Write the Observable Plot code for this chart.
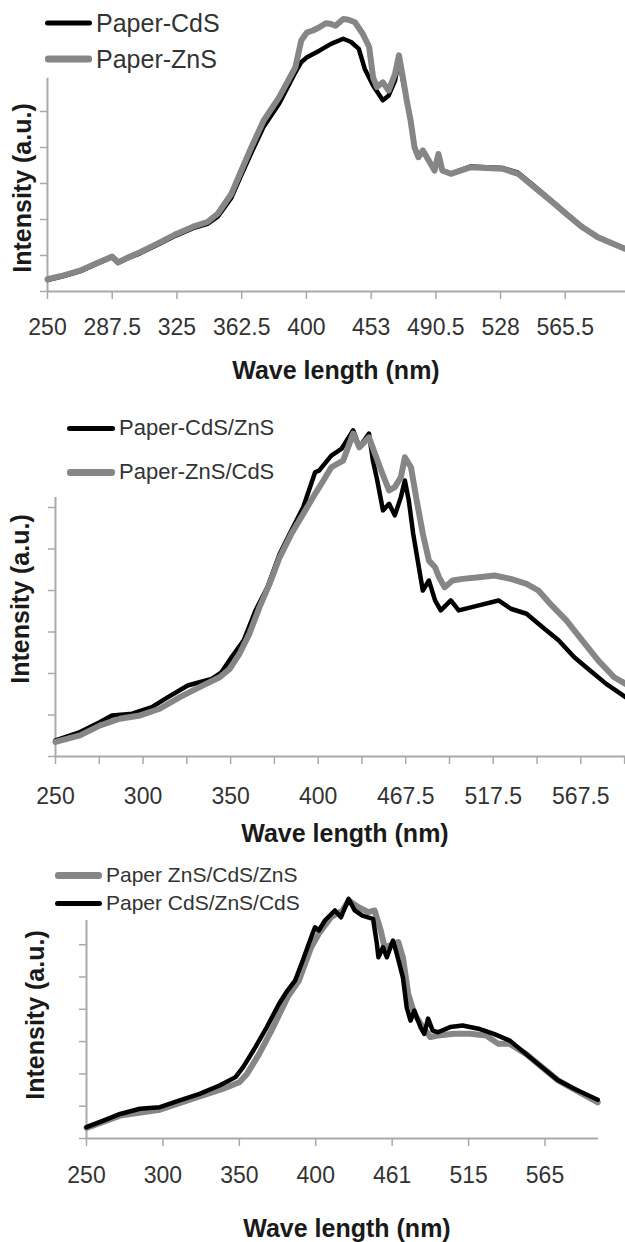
<!DOCTYPE html>
<html>
<head>
<meta charset="utf-8">
<script src="https://cdn.jsdelivr.net/npm/d3@7"></script>
<script src="https://cdn.jsdelivr.net/npm/@observablehq/plot@0.6"></script>
<style>
  html, body { margin: 0; padding: 0; background: #fff; }
  #root { position: relative; width: 625px; height: 1242px; overflow: hidden; font-family: "Liberation Sans", Arial, sans-serif; }
  #root svg { position: absolute; left: 0; }
  .ov { position: absolute; white-space: nowrap; }
  .title { font-weight: bold; color: #1a1a1a; font-size: 25px; transform: translate(-50%, -50%); }
  .ylab { font-weight: bold; color: #1a1a1a; font-size: 25px; transform: translate(-50%, -50%) rotate(-90deg); }
  .leg { display: flex; align-items: center; color: #333; transform: translateY(-50%); }
  .sw { display: inline-block; border-radius: 3px; }
</style>
</head>
<body>
<div id="root"></div>
<script>
// ---------- Panel 1: Paper-CdS / Paper-ZnS ----------
const ticks1 = ["250", "287.5", "325", "362.5", "400", "453", "490.5", "528", "565.5"];
const cdsPos = [0, 0.25, 0.5, 0.75, 1.0, 1.09, 1.25, 1.43, 1.7, 1.99, 2.25, 2.47, 2.63, 2.84, 2.98, 3.15, 3.34, 3.58, 3.83, 3.92, 4.01, 4.2, 4.38, 4.57, 4.69, 4.81, 4.9, 5.03, 5.18, 5.27, 5.37, 5.43, 5.49, 5.55, 5.61, 5.67, 5.73, 5.8, 5.89, 5.98, 6.04, 6.1, 6.23, 6.53, 7.03, 7.27, 7.52, 7.77, 8.01, 8.26, 8.5, 8.92];
const cdsVal = [0.32, 0.43, 0.56, 0.76, 0.95, 0.79, 0.93, 1.06, 1.3, 1.56, 1.76, 1.88, 2.08, 2.6, 3.18, 3.85, 4.58, 5.22, 6.09, 6.37, 6.51, 6.69, 6.88, 7.02, 6.93, 6.74, 6.19, 5.72, 5.31, 5.44, 5.86, 6.46, 5.86, 5.31, 4.75, 4.01, 3.73, 3.92, 3.64, 3.36, 3.82, 3.36, 3.27, 3.47, 3.43, 3.3, 2.93, 2.55, 2.18, 1.8, 1.52, 1.19];
const znsPos = [0, 0.25, 0.5, 0.75, 1.0, 1.09, 1.25, 1.43, 1.7, 1.99, 2.25, 2.47, 2.63, 2.84, 2.98, 3.15, 3.34, 3.58, 3.83, 3.92, 4.01, 4.1, 4.2, 4.3, 4.38, 4.45, 4.57, 4.65, 4.75, 4.87, 4.97, 5.03, 5.09, 5.18, 5.27, 5.37, 5.43, 5.49, 5.55, 5.61, 5.67, 5.73, 5.8, 5.89, 5.98, 6.04, 6.1, 6.23, 6.53, 7.03, 7.27, 7.52, 7.77, 8.01, 8.26, 8.5, 8.92];
const znsVal = [0.34, 0.45, 0.58, 0.78, 0.97, 0.81, 0.95, 1.09, 1.33, 1.6, 1.8, 1.93, 2.16, 2.71, 3.3, 4.01, 4.75, 5.4, 6.23, 6.97, 7.2, 7.25, 7.34, 7.45, 7.43, 7.38, 7.57, 7.55, 7.48, 7.16, 6.79, 5.95, 5.68, 5.81, 5.58, 6.05, 6.56, 5.95, 5.31, 4.75, 4.01, 3.73, 3.92, 3.64, 3.36, 3.82, 3.36, 3.27, 3.45, 3.41, 3.27, 2.9, 2.53, 2.16, 1.79, 1.51, 1.19];

// ---------- Panel 2: Paper-CdS/ZnS / Paper-ZnS/CdS ----------
const ticks2 = ["250", "", "300", "", "350", "", "400", "", "467.5", "", "517.5", "", "567.5", ""];
const cdsZnsPos = [0, 0.56, 1.02, 1.29, 1.75, 2.2, 2.57, 3.02, 3.29, 3.57, 3.79, 4.02, 4.3, 4.57, 4.84, 5.12, 5.39, 5.66, 5.93, 6.02, 6.3, 6.53, 6.8, 6.94, 7.16, 7.25, 7.35, 7.48, 7.62, 7.75, 7.89, 7.98, 8.07, 8.17, 8.3, 8.39, 8.53, 8.67, 8.8, 9.03, 9.21, 9.67, 10.12, 10.4, 10.76, 11.12, 11.49, 11.85, 12.21, 12.58, 13.02];
const cdsZnsVal = [0.39, 0.59, 0.83, 0.99, 1.03, 1.19, 1.43, 1.71, 1.79, 1.87, 2.03, 2.39, 2.8, 3.52, 4.08, 4.88, 5.45, 6.01, 6.85, 6.89, 7.25, 7.41, 7.86, 7.45, 7.78, 7.13, 6.65, 5.93, 6.09, 5.81, 6.25, 6.65, 6.17, 5.37, 4.56, 4.0, 4.24, 3.76, 3.52, 3.76, 3.52, 3.64, 3.76, 3.56, 3.44, 3.12, 2.8, 2.39, 2.07, 1.75, 1.43];
const znsCdsPos = [0, 0.56, 1.02, 1.47, 1.93, 2.38, 2.84, 3.29, 3.75, 3.98, 4.2, 4.43, 4.66, 4.89, 5.12, 5.39, 5.66, 5.93, 6.12, 6.3, 6.57, 6.8, 6.94, 7.16, 7.3, 7.44, 7.62, 7.75, 7.89, 7.98, 8.12, 8.25, 8.39, 8.53, 8.67, 8.76, 8.89, 9.07, 9.3, 9.67, 10.03, 10.4, 10.76, 11.03, 11.3, 11.67, 12.03, 12.4, 12.76, 13.02];
const znsCdsVal = [0.35, 0.51, 0.75, 0.91, 0.99, 1.15, 1.43, 1.67, 1.91, 2.11, 2.47, 2.96, 3.6, 4.16, 4.8, 5.37, 5.85, 6.33, 6.65, 6.97, 7.13, 7.78, 7.45, 7.69, 7.29, 6.89, 6.41, 6.49, 6.73, 7.21, 6.97, 6.17, 5.37, 4.72, 4.56, 4.32, 4.08, 4.24, 4.28, 4.32, 4.36, 4.28, 4.16, 4.0, 3.68, 3.28, 2.8, 2.31, 1.91, 1.75];

// ---------- Panel 3: Paper ZnS/CdS/ZnS / Paper CdS/ZnS/CdS ----------
const ticks3 = ["250", "300", "350", "400", "461", "515", "565"];
const znsCdsZnsPos = [0, 0.44, 0.96, 1.48, 1.79, 2.0, 2.1, 2.26, 2.42, 2.63, 2.78, 2.94, 3.04, 3.2, 3.35, 3.43, 3.56, 3.69, 3.77, 3.85, 3.9, 4.03, 4.08, 4.14, 4.21, 4.29, 4.4, 4.5, 4.6, 4.81, 5.02, 5.23, 5.39, 5.54, 5.75, 6.17, 6.69];
const znsCdsZnsVal = [0.33, 0.71, 0.89, 1.3, 1.54, 1.74, 2.0, 2.62, 3.34, 4.37, 4.89, 5.92, 6.34, 6.85, 7.06, 7.37, 7.16, 7.01, 7.06, 6.44, 5.92, 6.03, 6.08, 5.61, 4.48, 3.86, 3.45, 3.14, 3.19, 3.24, 3.24, 3.19, 2.93, 2.93, 2.62, 1.8, 1.12];
const cdsZnsCdsPos = [0, 0.23, 0.44, 0.7, 0.96, 1.22, 1.48, 1.74, 1.95, 2.05, 2.21, 2.36, 2.52, 2.63, 2.73, 2.83, 2.94, 2.99, 3.04, 3.12, 3.25, 3.33, 3.43, 3.51, 3.61, 3.75, 3.8, 3.82, 3.88, 3.93, 4.01, 4.06, 4.14, 4.19, 4.24, 4.29, 4.37, 4.42, 4.47, 4.53, 4.6, 4.76, 4.92, 5.13, 5.33, 5.54, 5.75, 5.96, 6.17, 6.38, 6.69];
const cdsZnsCdsVal = [0.35, 0.56, 0.76, 0.92, 0.97, 1.18, 1.38, 1.64, 1.9, 2.21, 2.83, 3.45, 4.17, 4.58, 4.89, 5.51, 6.23, 6.54, 6.44, 6.75, 7.06, 6.85, 7.42, 7.06, 6.9, 6.8, 6.03, 5.61, 5.92, 5.61, 6.13, 5.72, 4.99, 4.06, 3.65, 3.96, 3.45, 3.24, 3.71, 3.34, 3.29, 3.45, 3.5, 3.4, 3.24, 3.03, 2.62, 2.21, 1.8, 1.54, 1.2];

const BLACK = "#000000", GRAY = "#868686", AXIS = "#a9a9a9";
const toRows = (pos, val) => pos.map((p, i) => ({p, v: val[i]}));

const root = document.getElementById("root");

function panel(cfg) {
  const lines = cfg.series.map(s =>
    Plot.line(toRows(s.pos, s.val), {x: "p", y: "v", stroke: s.color, strokeWidth: s.width, strokeLinejoin: "round"}));
  const svg = Plot.plot({
    width: 625, height: cfg.height,
    marginLeft: cfg.ml, marginRight: cfg.mr, marginTop: cfg.mt, marginBottom: cfg.mb,
    style: {fontFamily: '"Liberation Sans", Arial, sans-serif', fontSize: cfg.tickFont + "px", color: "#333", background: "transparent", overflow: "visible"},
    x: {domain: [0, cfg.xMax], label: null},
    y: {domain: [0, cfg.yMax], label: null},
    marks: [
      Plot.ruleY([0], {stroke: AXIS, strokeWidth: 2}),
      Plot.ruleX([0], {y1: 0, y2: cfg.axisTop, stroke: AXIS, strokeWidth: 2}),
      Plot.axisY({ticks: d3.range(0, cfg.nYTicks + 1), tickSize: 7, tickFormat: () => "", label: null, stroke: AXIS, strokeWidth: 1.5}),
      Plot.axisX({ticks: d3.range(cfg.xTicks.length), tickSize: 8, tickPadding: cfg.tickPad, tickFormat: i => cfg.xTicks[i], label: null, stroke: AXIS, strokeWidth: 1.5, fill: "#333"}),
      ...lines
    ]
  });
  svg.style.top = cfg.top + "px";
  root.appendChild(svg);

  const t = document.createElement("div");
  t.className = "ov title"; t.textContent = "Wave length (nm)";
  t.style.left = cfg.titleX + "px"; t.style.top = cfg.titleY + "px";
  root.appendChild(t);
  const yl = document.createElement("div");
  yl.className = "ov ylab"; yl.textContent = "Intensity (a.u.)";
  yl.style.left = cfg.ylabX + "px"; yl.style.top = cfg.ylabY + "px";
  root.appendChild(yl);

  cfg.legend.forEach(l => {
    const d = document.createElement("div");
    d.className = "ov leg";
    d.style.left = cfg.legX + "px"; d.style.top = l.y + "px"; d.style.fontSize = cfg.legFont + "px";
    const sw = document.createElement("span");
    sw.className = "sw";
    sw.style.width = cfg.swW + "px"; sw.style.height = l.h + "px"; sw.style.background = l.color;
    const tx = document.createElement("span");
    tx.textContent = l.label; tx.style.marginLeft = "4px";
    d.appendChild(sw); d.appendChild(tx);
    root.appendChild(d);
  });
}

panel({
  top: 0, height: 400, ml: 47, mr: 0, mt: 3, mb: 109, xMax: 8.93, yMax: 8, axisTop: 5.92, nYTicks: 5,
  xTicks: ticks1, tickPad: 19, tickFont: 23,
  series: [
    {pos: cdsPos, val: cdsVal, color: BLACK, width: 4.5},
    {pos: znsPos, val: znsVal, color: GRAY, width: 6}
  ],
  titleX: 336, titleY: 370, ylabX: 22, ylabY: 188,
  legX: 45, legFont: 25, swW: 47,
  legend: [
    {label: "Paper-CdS", color: BLACK, y: 23, h: 5},
    {label: "Paper-ZnS", color: GRAY, y: 59, h: 7}
  ]
});

panel({
  top: 400, height: 450, ml: 55, mr: 0, mt: 3.25, mb: 94, xMax: 13.02, yMax: 8.5, axisTop: 6.24, nYTicks: 6,
  xTicks: ticks2, tickPad: 23, tickFont: 23,
  series: [
    {pos: cdsZnsPos, val: cdsZnsVal, color: BLACK, width: 4.5},
    {pos: znsCdsPos, val: znsCdsVal, color: GRAY, width: 6}
  ],
  titleX: 345, titleY: 833, ylabX: 20, ylabY: 599,
  legX: 67, legFont: 22, swW: 48,
  legend: [
    {label: "Paper-CdS/ZnS", color: BLACK, y: 428, h: 5},
    {label: "Paper-ZnS/CdS", color: GRAY, y: 472, h: 7}
  ]
});

panel({
  top: 850, height: 392, ml: 86, mr: 27, mt: 13.45, mb: 104, xMax: 6.7, yMax: 8.5, axisTop: 6.75, nYTicks: 6,
  xTicks: ticks3, tickPad: 20, tickFont: 23,
  series: [
    {pos: znsCdsZnsPos, val: znsCdsZnsVal, color: GRAY, width: 6},
    {pos: cdsZnsCdsPos, val: cdsZnsCdsVal, color: BLACK, width: 4.5}
  ],
  titleX: 347, titleY: 1228, ylabX: 35, ylabY: 1015,
  legX: 55, legFont: 21, swW: 47,
  legend: [
    {label: "Paper ZnS/CdS/ZnS", color: GRAY, y: 875, h: 7},
    {label: "Paper CdS/ZnS/CdS", color: BLACK, y: 903, h: 5}
  ]
});
</script>
</body>
</html>
